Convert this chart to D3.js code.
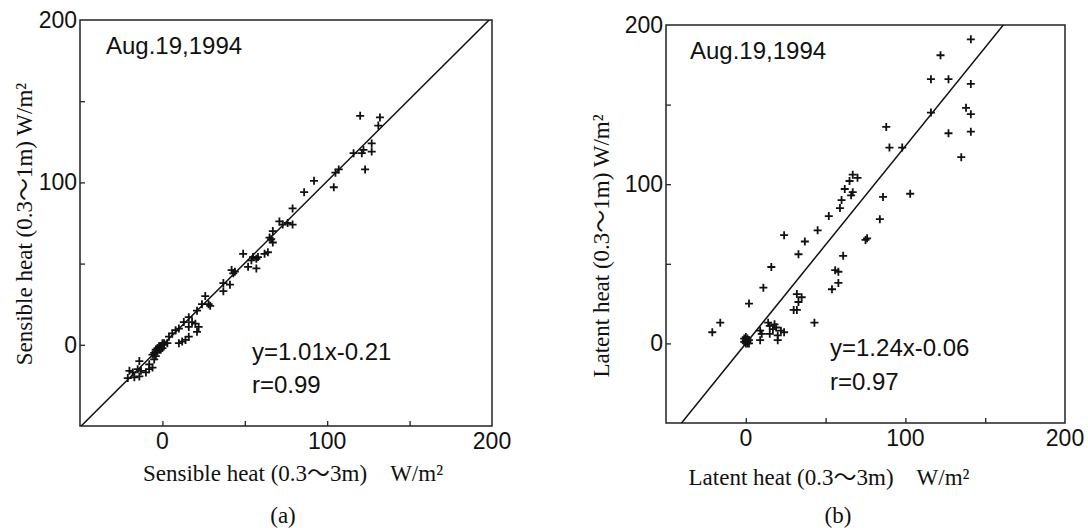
<!DOCTYPE html>
<html>
<head>
<meta charset="utf-8">
<script src="https://cdn.jsdelivr.net/npm/d3@7"></script>
<style>
  body { margin: 0; background: #fff; }
  .tick-label { font-family: "Liberation Sans", Arial, sans-serif; font-size: 23px; fill: #111; }
  .note { font-family: "Liberation Sans", Arial, sans-serif; font-size: 24px; fill: #111; }
  .title { font-family: "Liberation Serif", "Times New Roman", "Noto Sans CJK JP", serif; font-size: 23px; fill: #111; }
</style>
</head>
<body>
<svg id="chart" width="1088" height="528"></svg>
<script>
// values (W/m2)
const dateLabel = "Aug.19,1994";
const labelTicks = [0, 100, 200];
const markTicks = [0, 50, 100, 150];

const sensiblePoints = [
  [-21, -20.5], [-20, -16], [-18, -17], [-17, -20], [-15, -15], [-14, -19.5], [-14, -10], [-13, -16],
  [-10, -17], [-8, -15], [-8, -12], [-6, -14], [-6, -6], [-5, -9], [-5, -5], [-4, -7], [-4, -3],
  [-3, -2], [-3, -4], [-2, -3], [-2, -1], [-1, -1], [-1, -3], [0, -2], [0, 1], [1, 0], [1, 1], [3, 1],
  [4, 5], [6, 7], [8, 9], [10, 10], [10, 1], [12, 2], [14, 3], [16, 5], [13, 14], [16, 17], [16, 11],
  [18, 14], [20, 13], [21, 8], [22, 11], [21, 21], [24, 25], [26, 30], [28, 25], [29, 24],
  [37, 33], [37, 38], [41, 37], [42, 46], [43, 44], [44, 45], [49, 56], [52, 48], [54, 52], [55, 54],
  [57, 53], [57, 47], [58, 54], [62, 56], [64, 57], [65, 66], [66, 65], [67, 63], [67, 70], [71, 76],
  [73, 74], [76, 75], [79, 74], [79, 84], [86, 94], [92, 101], [104, 97], [105, 106], [107, 108],
  [116, 118], [121, 118], [122, 120], [123, 108], [127, 119], [127, 124], [131, 135], [132, 140], [120, 141]
];

const latentPoints = [
  [-21, 7], [-16, 13], [-1, 1], [0, 0], [0, 2], [1, 1], [1, 3], [2, 2], [0, 4], [1, 0], [-1, 3], [2, 0],
  [2, 25], [9, 8], [9, 2], [10, 6], [11, 35], [14, 13], [15, 11], [15, 6], [17, 9], [18, 12], [19, 10],
  [20, 5], [20, 2], [22, 8], [24, 7], [16, 48], [24, 68],
  [30, 21], [32, 21], [32, 31], [35, 29], [33, 26], [33, 56], [37, 64], [43, 13], [45, 71], [52, 80],
  [54, 34], [56, 46], [58, 45], [58, 38], [61, 55], [59, 85], [60, 90], [62, 97], [66, 93], [67, 95],
  [65, 102], [67, 106], [70, 104],
  [75, 65], [76, 66], [84, 78], [86, 92], [88, 136], [90, 123], [98, 123], [103, 94],
  [116, 166], [122, 181], [127, 166], [141, 191], [141, 163], [116, 145], [138, 148], [141, 144],
  [127, 132], [141, 133], [135, 117]
];

const fitLines = [
  { slope: 1.01, intercept: -0.21, text: "y=1.01x-0.21", r: "r=0.99" },
  { slope: 1.24, intercept: -0.06, text: "y=1.24x-0.06", r: "r=0.97" }
];
const xTitles = ["Sensible heat (0.3\u301c3m)\u3000W/m\u00b2", "Latent heat (0.3\u301c3m)\u3000W/m\u00b2"];
const yTitles = ["Sensible heat (0.3\u301c1m) W/m\u00b2", "Latent heat (0.3\u301c1m) W/m\u00b2"];
const panelTags = ["(a)", "(b)"];

/* frame boxes and text offsets for each panel */
const layout = [
  { left: 80, right: 492, top: 20, bottom: 426, dateX: 26, dateY: 34, eqX: 172, eqY: 360, rY: 393,
    xTitleX: 293, xTitleY: 481, yTitleX: 32, yTitleY: 224, tagX: 283, tagY: 523 },
  { left: 666, right: 1065, top: 25, bottom: 423, dateX: 24, dateY: 34, eqX: 164, eqY: 356, rY: 390,
    xTitleX: 829, xTitleY: 485, yTitleX: 609, yTitleY: 246, tagX: 838, tagY: 523 }
];

const svg = d3.select("#chart");
const domain = [-50, 200];

function drawPanel(i, points) {
  const L = layout[i];
  const x = d3.scaleLinear().domain(domain).range([L.left, L.right]);
  const y = d3.scaleLinear().domain(domain).range([L.bottom, L.top]);
  const g = svg.append("g");

  g.append("clipPath").attr("id", "clip" + i)
    .append("rect")
    .attr("x", L.left).attr("y", L.top)
    .attr("width", L.right - L.left).attr("height", L.bottom - L.top);

  /* inner ticks on bottom and left */
  g.append("g")
    .attr("transform", "translate(0," + L.bottom + ")")
    .call(d3.axisTop(x).tickValues(markTicks).tickSize(5).tickFormat(""))
    .call(s => s.select(".domain").remove())
    .selectAll("line").attr("stroke", "#222").attr("stroke-width", 1.3);
  g.append("g")
    .attr("transform", "translate(" + L.left + ",0)")
    .call(d3.axisRight(y).tickValues(markTicks).tickSize(5).tickFormat(""))
    .call(s => s.select(".domain").remove())
    .selectAll("line").attr("stroke", "#222").attr("stroke-width", 1.3);

  /* frame */
  g.append("rect")
    .attr("x", L.left).attr("y", L.top)
    .attr("width", L.right - L.left).attr("height", L.bottom - L.top)
    .attr("fill", "none").attr("stroke", "#222").attr("stroke-width", 1.5);

  /* tick labels */
  g.selectAll(".xl").data(labelTicks).enter().append("text")
    .attr("class", "tick-label")
    .attr("x", d => x(d)).attr("y", L.bottom + 23)
    .attr("text-anchor", "middle")
    .text(d => d);
  g.selectAll(".yl").data(labelTicks).enter().append("text")
    .attr("class", "tick-label")
    .attr("x", L.left - 3).attr("y", d => y(d) + 8)
    .attr("text-anchor", "end")
    .text(d => d);

  /* regression line */
  const f = fitLines[i];
  g.append("line")
    .attr("clip-path", "url(#clip" + i + ")")
    .attr("x1", x(-60)).attr("y1", y(f.slope * -60 + f.intercept))
    .attr("x2", x(210)).attr("y2", y(f.slope * 210 + f.intercept))
    .attr("stroke", "#111").attr("stroke-width", 1.5);

  /* plus markers */
  g.selectAll(".pt").data(points).enter().append("path")
    .attr("transform", d => "translate(" + x(d[0]) + "," + y(d[1]) + ")")
    .attr("d", "M-4,0H4M0,-4V4")
    .attr("stroke", "#111").attr("stroke-width", 1.8).attr("fill", "none");

  /* texts */
  g.append("text").attr("class", "note")
    .attr("x", L.left + L.dateX).attr("y", L.top + L.dateY).text(dateLabel);
  g.append("text").attr("class", "note")
    .attr("x", L.left + L.eqX).attr("y", L.eqY).text(f.text);
  g.append("text").attr("class", "note")
    .attr("x", L.left + L.eqX).attr("y", L.rY).text(f.r);

  g.append("text").attr("class", "title")
    .attr("x", L.xTitleX).attr("y", L.xTitleY)
    .attr("text-anchor", "middle").text(xTitles[i]);
  g.append("text").attr("class", "title")
    .attr("transform", "translate(" + L.yTitleX + "," + L.yTitleY + ") rotate(-90)")
    .attr("text-anchor", "middle").text(yTitles[i]);
  g.append("text").attr("class", "title")
    .attr("x", L.tagX).attr("y", L.tagY)
    .attr("text-anchor", "middle").text(panelTags[i]);
}

drawPanel(0, sensiblePoints);
drawPanel(1, latentPoints);
</script>
</body>
</html>
